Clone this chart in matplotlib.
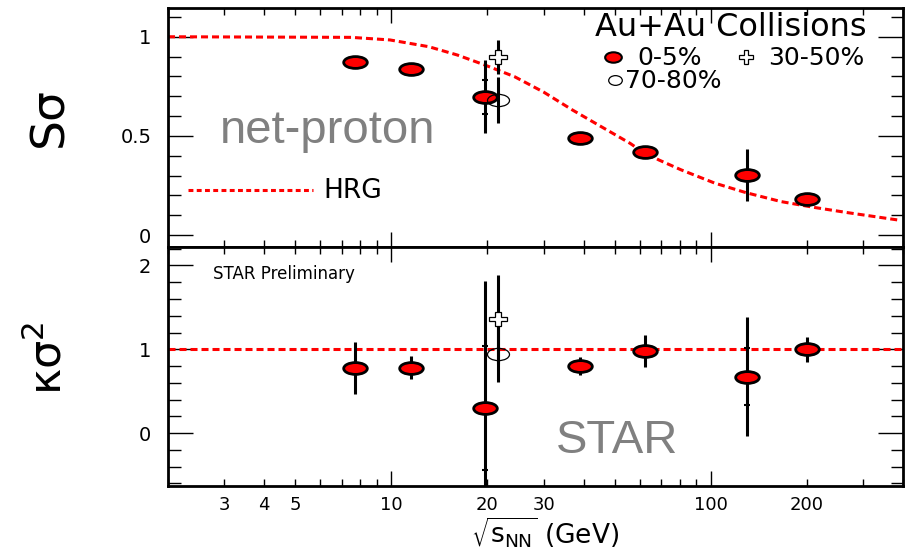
import matplotlib
matplotlib.use("Agg")
import matplotlib.pyplot as plt
from matplotlib.markers import MarkerStyle
from matplotlib.transforms import Affine2D
from matplotlib.lines import Line2D
from matplotlib.ticker import FixedLocator, LogLocator, FuncFormatter, MultipleLocator, NullFormatter

plt.rcParams['font.family'] = ['DejaVu Sans']
plt.rcParams['mathtext.fontset'] = 'dejavusans'

# ---------------- data ----------------
energy_0_5 = [7.7, 11.5, 19.6, 39.0, 62.4, 130.0, 200.0]
ssigma_0_5 = [0.871, 0.838, 0.698, 0.489, 0.420, 0.303, 0.181]
ssigma_0_5_err = [0.01, 0.01, 0.185, 0.01, 0.01, 0.13, 0.01]
ssigma_0_5_stat = [0.0, 0.0, 0.086, 0.0, 0.0, 0.0, 0.0]
kappa_0_5 = [0.778, 0.783, 0.305, 0.802, 0.981, 0.675, 0.998]
kappa_0_5_err = [0.31, 0.134, 1.51, 0.11, 0.19, 0.71, 0.153]
kappa_0_5_stat = [0.0, 0.0, 0.74, 0.0, 0.0, 0.34, 0.0]

energy_periph = [21.6]
ssigma_30_50 = [0.897]
ssigma_30_50_err = [0.086]
ssigma_70_80 = [0.682]
ssigma_70_80_err = [0.115]
kappa_30_50 = [1.36]
kappa_30_50_err = [0.53]
kappa_70_80 = [0.95]
kappa_70_80_err = [0.34]

hrg_energy = [2.0, 7.5, 9.9, 13.1, 16.1, 19.6, 24.3, 30.0, 36.9, 45.4, 55.9,
              60.5, 68.8, 80.8, 103.0, 129.0, 166.0, 212.0, 269.0, 390.0]
hrg_ssigma = [1.0, 0.997, 0.984, 0.950, 0.908, 0.858, 0.799, 0.721, 0.631, 0.547, 0.463,
              0.425, 0.379, 0.329, 0.262, 0.214, 0.169, 0.139, 0.113, 0.075]
hrg_kappa = 1.0

xtick_values = [3, 4, 5, 10, 20, 30, 100, 200]
xtick_labels = ['3', '4', '5', '10', '20', '30', '100', '200']
top_yticks = [0, 0.5, 1]
top_ytick_labels = ['0', '0.5', '1']
bot_yticks = [0, 1, 2]
bot_ytick_labels = ['0', '1', '2']

# ---------------- figure ----------------
W, H = 912, 549
fig = plt.figure(figsize=(W / 100, H / 100), dpi=100)
L, R = 168, 903
ax1 = fig.add_axes([L / W, 1 - 247 / H, (R - L) / W, 239 / H])
ax2 = fig.add_axes([L / W, 1 - 486 / H, (R - L) / W, 239 / H])

red = '#ff0000'
gray = '#808080'
ell_big = MarkerStyle('o', transform=Affine2D().scale(2.0, 1.0))
ell_open = MarkerStyle('o', transform=Affine2D().scale(1.8, 1.0))
cross_m = MarkerStyle('P', transform=Affine2D().scale(1.3, 1.0))

for ax in (ax1, ax2):
    ax.set_xscale('log')
    ax.set_xlim(2, 400)
    for s in ax.spines.values():
        s.set_linewidth(2.0)
    ax.xaxis.set_major_locator(FixedLocator([10, 100]))
    ax.xaxis.set_minor_locator(LogLocator(base=10, subs=range(2, 10)))
    ax.tick_params(axis='both', which='both', direction='in', top=True, right=True,
                   width=1.0, color='black')
    ax.tick_params(axis='x', which='major', length=11)
    ax.tick_params(axis='x', which='minor', length=5)
    ax.tick_params(axis='y', which='major', length=18, pad=12, labelsize=14)
    ax.tick_params(axis='y', which='minor', length=9)

lab = dict(zip(xtick_values, xtick_labels))


def fmt(v, p):
    for k, t in lab.items():
        if abs(v - k) < 1e-6 * k:
            return t
    return ''


ax1.xaxis.set_major_formatter(NullFormatter())
ax1.xaxis.set_minor_formatter(NullFormatter())
ax2.xaxis.set_major_formatter(FuncFormatter(fmt))
ax2.xaxis.set_minor_formatter(FuncFormatter(fmt))
ax2.tick_params(axis='x', which='both', pad=7, labelsize=13)

# ---- top panel ----
ax1.set_ylim(-0.06, 1.145)
ax1.yaxis.set_major_locator(FixedLocator(top_yticks))
ax1.set_yticklabels(top_ytick_labels)
ax1.yaxis.set_minor_locator(MultipleLocator(0.1))

lw_d = 2.2
ax1.plot(hrg_energy, hrg_ssigma, color=red, lw=lw_d, ls='--', dashes=(2.3, 1.3), zorder=2)
ax1.errorbar(energy_0_5, ssigma_0_5, yerr=ssigma_0_5_err, fmt='none', ecolor='black',
             elinewidth=2.2, capsize=0, zorder=3)
ax1.errorbar(energy_0_5, ssigma_0_5, yerr=ssigma_0_5_stat, fmt='none', ecolor='black',
             elinewidth=0, capsize=2.5, capthick=1.5, zorder=3)
ax1.errorbar(energy_periph, ssigma_30_50, yerr=ssigma_30_50_err, fmt='none', ecolor='black',
             elinewidth=2.2, capsize=0, zorder=3)
ax1.errorbar(energy_periph, ssigma_70_80, yerr=ssigma_70_80_err, fmt='none', ecolor='black',
             elinewidth=2.2, capsize=0, zorder=3)
ax1.plot(energy_0_5, ssigma_0_5, ls='none', marker=ell_big, ms=8.5, mfc=red, mec='black',
         mew=2.0, zorder=4)
ax1.plot(energy_periph, ssigma_70_80, ls='none', marker=ell_open, ms=8.8, mfc='none',
         mec='black', mew=0.9, zorder=5)
ax1.plot(energy_periph, ssigma_30_50, ls='none', marker=cross_m, ms=10, mfc='white',
         mec='black', mew=0.9, zorder=6)

t1 = ax1.transAxes
ax1.text(0.581, 0.883, 'Au+Au Collisions', transform=t1, fontsize=23, ha='left', va='baseline')
ax1.plot([0.605], [0.797], transform=t1, ls='none',
         marker=MarkerStyle('o', transform=Affine2D().scale(1.6, 1.0)), ms=7.5,
         mfc=red, mec='black', mew=1.5, clip_on=False)
ax1.text(0.639, 0.762, '0-5%', transform=t1, fontsize=18, ha='left', va='baseline')
ax1.plot([0.786], [0.795], transform=t1, ls='none', marker='P', ms=9.5, mfc='white',
         mec='black', mew=0.9, clip_on=False)
ax1.text(0.816, 0.762, '30-50%', transform=t1, fontsize=18, ha='left', va='baseline')
ax1.plot([0.608], [0.699], transform=t1, ls='none',
         marker=MarkerStyle('o', transform=Affine2D().scale(1.4, 1.0)), ms=7,
         mfc='none', mec='black', mew=0.9, clip_on=False)
ax1.text(0.622, 0.665, '70-80%', transform=t1, fontsize=18, ha='left', va='baseline')

ax1.text(0.0707, 0.434, 'net-proton', transform=t1, fontsize=34, color=gray,
         family='Liberation Sans', ha='left', va='baseline')
ax1.add_line(Line2D([0.027, 0.197], [0.238, 0.238], transform=t1, color=red, lw=lw_d,
                    ls='--', dashes=(1.6, 1.1)))
ax1.text(0.212, 0.236, 'HRG', transform=t1, fontsize=19, ha='left', va='center')

# ---- bottom panel ----
ax2.set_ylim(-0.63, 2.22)
ax2.yaxis.set_major_locator(FixedLocator(bot_yticks))
ax2.set_yticklabels(bot_ytick_labels)
ax2.yaxis.set_minor_locator(MultipleLocator(0.2))

ax2.axhline(hrg_kappa, color=red, lw=lw_d, ls='--', dashes=(2.3, 1.3), zorder=2)
ax2.errorbar(energy_0_5, kappa_0_5, yerr=kappa_0_5_err, fmt='none', ecolor='black',
             elinewidth=2.2, capsize=0, zorder=3)
ax2.errorbar(energy_0_5, kappa_0_5, yerr=kappa_0_5_stat, fmt='none', ecolor='black',
             elinewidth=0, capsize=2.5, capthick=1.5, zorder=3)
ax2.errorbar(energy_periph, kappa_30_50, yerr=kappa_30_50_err, fmt='none', ecolor='black',
             elinewidth=2.2, capsize=0, zorder=3)
ax2.errorbar(energy_periph, kappa_70_80, yerr=kappa_70_80_err, fmt='none', ecolor='black',
             elinewidth=2.2, capsize=0, zorder=3)
ax2.plot(energy_0_5, kappa_0_5, ls='none', marker=ell_big, ms=8.5, mfc=red, mec='black',
         mew=2.0, zorder=4)
ax2.plot(energy_periph, kappa_70_80, ls='none', marker=ell_open, ms=8.8, mfc='none',
         mec='black', mew=0.9, zorder=5)
ax2.plot(energy_periph, kappa_30_50, ls='none', marker=cross_m, ms=10, mfc='white',
         mec='black', mew=0.9, zorder=6)

t2 = ax2.transAxes
ax2.text(0.061, 0.865, 'STAR Preliminary', transform=t2, fontsize=12, ha='left', va='baseline')
ax2.text(0.528, 0.138, 'STAR', transform=t2, fontsize=34, color=gray,
         family='Liberation Sans', ha='left', va='baseline')

# ---- axis titles ----
fig.text(50 / W, 1 - 117 / H, 'S\u03c3', rotation=90, fontsize=34, ha='center', va='center')
fig.text(48 / W, 1 - 358 / H, r'$\mathregular{\kappa\sigma^2}$', rotation=90, fontsize=32,
         ha='center', va='center')
fig.text(545 / W, 1 - 532 / H, r'$\sqrt{\mathregular{s}_{\mathregular{NN}}}$ (GeV)', fontsize=19,
         ha='center', va='center')

fig.savefig('out.png', dpi=100)
